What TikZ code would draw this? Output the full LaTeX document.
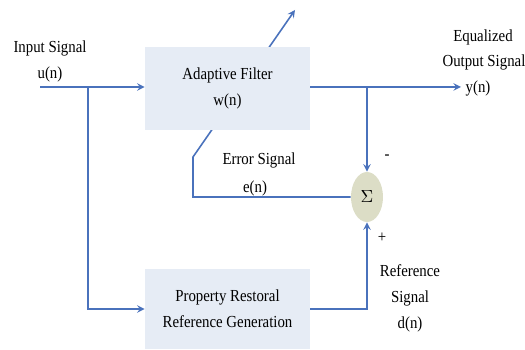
\documentclass[tikz,border=0pt]{standalone}
\usepackage{fontspec}
\setmainfont{Liberation Serif}[FakeStretch=0.88]
\usepackage{tikz}
\usetikzlibrary{shapes.geometric}

\definecolor{wire}{HTML}{4A72BC}
\definecolor{boxfill}{HTML}{E6ECF5}
\definecolor{sumfill}{HTML}{DCDDC6}

\tikzset{
    block/.style={fill=boxfill, minimum width=3.3cm, align=center},
    summer/.style={ellipse, fill=sumfill, minimum width=0.64cm, minimum height=1cm, inner sep=0pt},
    wirepath/.style={line width=0.9pt, wire},
    lbl/.style={align=center, inner sep=0pt}
}

\begin{document}
\begin{tikzpicture}[x=0.02cm, y=-0.02cm, >=stealth,
        every node/.style={font=\fontsize{9.6}{14.8}\selectfont}]
            \useasboundingbox (0, 0) rectangle (525, 350);

            % error path runs behind the filter box
            \coordinate (ebend) at (193, 157);
            \coordinate (etip) at (295, 10);
            \node [summer] (sum) at (367, 197) {$\Sigma$};
            \draw [wirepath, ->] (sum.west) -| (ebend) -- (etip);

            \node [block, minimum height=1.66cm] (filter) at (227.5, 88.5)
                  {Adaptive Filter\\w(n)};
            \node [block, minimum height=1.62cm] (prop) at (227.5, 309)
                  {Property Restoral\\Reference Generation};

            \coordinate (in) at (40, 87);
            \coordinate (tap) at (88, 87);
            \coordinate (fork) at (367, 87);
            \coordinate (out) at (461, 87);

            \draw [wirepath, ->] (in) -- (filter.west |- in);
            \draw [wirepath, ->] (tap) |- (prop.west);
            \draw [wirepath, ->] (filter.east |- out) -- (out);
            \draw [wirepath, ->] (fork) -- (sum.north);
            \draw [wirepath, ->] (prop.east) -| (sum.south);

            \node [lbl] (inlbl) at (50, 61.5) {Input Signal\\u(n)};
            \node [lbl] (eqlbl) at (483, 37) {Equalized};
            \node [lbl] (outlbl) at (484, 62) {Output Signal};
            \node [lbl] (ylbl) at (478, 88) {y(n)};
            \node [lbl] (errlbl) at (259, 160) {Error Signal};
            \node [lbl] (elbl) at (255, 188) {e(n)};
            \node [lbl] (minus) at (387, 157) {-};
            \node [lbl] (plus) at (382, 238) {+};
            \node [lbl] (reflbl) at (410, 298) {Reference\\Signal\\d(n)};

        \end{tikzpicture}
\end{document}
